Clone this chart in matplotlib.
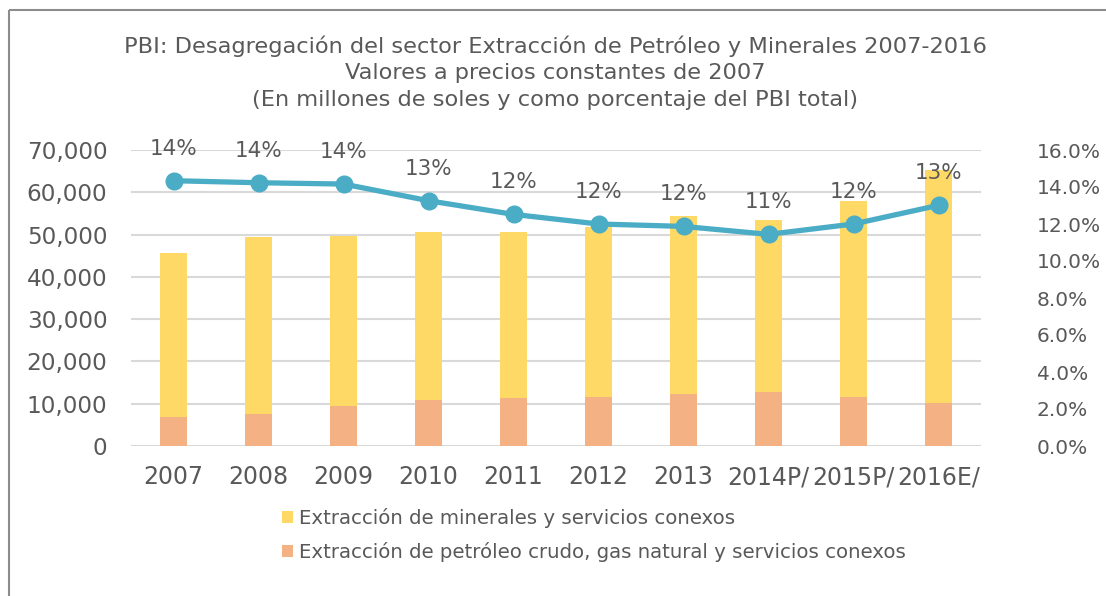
import matplotlib
matplotlib.use("Agg")
import matplotlib.pyplot as plt
from matplotlib.patches import Patch
from matplotlib.lines import Line2D
from matplotlib.ticker import FuncFormatter

years = ["2007", "2008", "2009", "2010", "2011", "2012", "2013", "2014P/", "2015P/", "2016E/"]
petroleo = [6930, 7480, 9530, 10950, 11420, 11660, 12290, 12770, 11580, 10240]
total = [45750, 49450, 49760, 50550, 50710, 51700, 54300, 53430, 57920, 65250]
minerales = [t - p for t, p in zip(total, petroleo)]
pct_pbi = [14.34, 14.23, 14.16, 13.26, 12.52, 12.0, 11.87, 11.44, 12.0, 13.01]
pct_labels = ["14%", "14%", "14%", "13%", "12%", "12%", "12%", "11%", "12%", "13%"]

serie_min = "Extracción de minerales y servicios conexos"
serie_pet = "Extracción de petróleo crudo, gas natural y servicios conexos"
title_lines = ["PBI: Desagregación del sector Extracción de Petróleo y Minerales 2007-2016",
               "Valores a precios constantes de 2007",
               "(En millones de soles y como porcentaje del PBI total)"]

c_min = "#ffd966"
c_pet = "#f4b183"
c_line = "#4bacc6"
c_text = "#595959"
c_grid = "#d9d9d9"

plt.rcParams["font.family"] = "DejaVu Sans"

fig = plt.figure(figsize=(11.06, 5.96), dpi=100)
ax = fig.add_axes([131/1106, 1-446/596, 850/1106, 296/596])

x = list(range(len(years)))
w = 0.32
ax.bar(x, petroleo, width=w, color=c_pet, zorder=2)
ax.bar(x, minerales, width=w, bottom=petroleo, color=c_min, zorder=2)
ax.set_xlim(-0.5, len(years) - 0.5)
ax.set_ylim(0, 70000)
ax.set_yticks(range(0, 70001, 10000))
ax.yaxis.set_major_formatter(FuncFormatter(lambda v, p: f"{int(v):,}"))
ax.set_xticks(x)
ax.set_xticklabels(years)
ax.grid(axis="y", color=c_grid, linewidth=1.5, zorder=0)
ax.set_axisbelow(True)
for s in ax.spines.values():
    s.set_visible(False)
ax.tick_params(axis="y", length=0, colors=c_text, labelsize=16.7, pad=17)
ax.tick_params(axis="x", length=0, colors=c_text, labelsize=17, pad=14)

ax2 = ax.twinx()
ax2.set_ylim(0, 16)
ax2.set_yticks(range(0, 17, 2))
ax2.yaxis.set_major_formatter(FuncFormatter(lambda v, p: f"{v:.1f}%"))
for s in ax2.spines.values():
    s.set_visible(False)
ax2.tick_params(axis="y", length=0, colors=c_text, labelsize=14.5, pad=40)
ax2.plot(x, pct_pbi, color=c_line, linewidth=3.8, marker="o", markersize=12, zorder=3)
for xi, yi, lab in zip(x, pct_pbi, pct_labels):
    ax2.annotate(lab, (xi, yi), xytext=(0, 23), textcoords="offset points",
                 ha="center", va="center", fontsize=15.5, color=c_text)

for i, line in enumerate(title_lines):
    fig.text(555/1106, 1-(46 + 27*i)/596, line, ha="center", va="center",
             fontsize=16.2, color=c_text)

handles = [Patch(facecolor=c_min, edgecolor="none"), Patch(facecolor=c_pet, edgecolor="none")]
leg = fig.legend(handles, [serie_min, serie_pet], loc="center left",
                 bbox_to_anchor=(272/1106, 1-535/596), frameon=False,
                 prop={"size": 14.2}, handlelength=0.55,
                 handleheight=0.55, handletextpad=0.3, labelspacing=0.7, borderpad=0)
for t in leg.get_texts():
    t.set_color(c_text)

fig.add_artist(Line2D([9/1106, 1.01], [1-10/596, 1-10/596], color="#8c8c8c",
                      linewidth=1.5, solid_capstyle="butt"))
fig.add_artist(Line2D([9/1106, 9/1106], [-0.01, 1-10/596], color="#8c8c8c",
                      linewidth=1.5, solid_capstyle="butt"))

fig.savefig("out.png", dpi=100)
